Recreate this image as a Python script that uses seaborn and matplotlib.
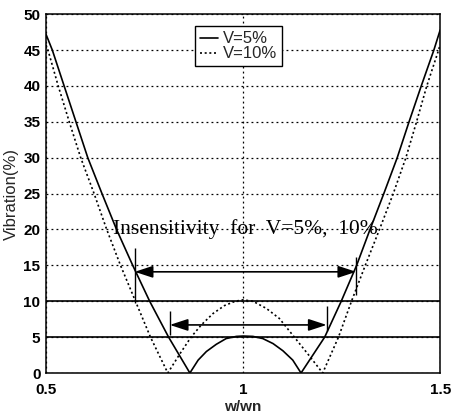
import matplotlib
matplotlib.use("Agg")
import matplotlib.pyplot as plt
import numpy as np
import pandas as pd
import seaborn as sns

# Residual vibration vs. normalized frequency for two vibration tolerances
w_v5 = [0.500, 0.516, 0.546, 0.576, 0.606, 0.642, 0.679, 0.720, 0.763, 0.811,
        0.865, 0.886, 0.907, 0.932, 0.957, 0.983, 1.000, 1.025, 1.050, 1.076,
        1.101, 1.126, 1.147, 1.207, 1.249, 1.288, 1.322, 1.357, 1.391, 1.421,
        1.452, 1.484, 1.500]
vib_v5 = [47.2, 45.0, 40.0, 35.0, 30.0, 25.0, 20.0, 15.0, 10.0, 5.0,
          0.0, 1.8, 3.0, 4.0, 4.8, 5.1, 5.15, 5.1, 4.8, 4.1,
          3.1, 1.8, 0.0, 5.0, 10.0, 15.0, 20.0, 25.0, 30.0, 35.0,
          40.0, 45.0, 47.8]

w_v10 = [0.500, 0.505, 0.531, 0.559, 0.588, 0.622, 0.654, 0.689, 0.727, 0.765,
         0.809, 0.840, 0.868, 0.894, 0.924, 0.953, 0.980, 1.000, 1.025, 1.059,
         1.092, 1.130, 1.165, 1.202, 1.242, 1.275, 1.310, 1.346, 1.381, 1.413,
         1.440, 1.466, 1.496, 1.500]
vib_v10 = [45.7, 45.0, 40.0, 35.0, 30.0, 25.0, 20.0, 15.0, 10.0, 5.0,
           0.0, 2.7, 5.0, 6.7, 8.3, 9.4, 10.0, 10.2, 10.0, 9.0,
           7.6, 5.0, 2.6, 0.0, 5.0, 10.0, 15.0, 20.0, 25.0, 30.0,
           35.0, 40.0, 45.0, 45.8]

series_names = ["V=5%", "V=10%"]
x_ticks = [0.5, 1.0, 1.5]
x_tick_labels = ["0.5", "1", "1.5"]
y_ticks = [0, 5, 10, 15, 20, 25, 30, 35, 40, 45, 50]

# Tolerance levels and insensitivity ranges (w/wn limits, arrow height)
levels = [5, 10]
range_v5 = [0.725, 1.287, 14.1]
range_v10 = [0.814, 1.212, 6.7]

df = pd.concat([
    pd.DataFrame({"w": w_v5, "vib": vib_v5, "case": series_names[0]}),
    pd.DataFrame({"w": w_v10, "vib": vib_v10, "case": series_names[1]}),
], ignore_index=True)

sns.set_style("white")
plt.rcParams["font.family"] = ["Liberation Sans", "DejaVu Sans"]

fig = plt.figure(figsize=(4.51, 4.17), dpi=100)
ax = fig.add_axes([0.102, 0.1055, 0.874, 0.8605])

sns.lineplot(data=df, x="w", y="vib", style="case", style_order=series_names,
             dashes={series_names[0]: "", series_names[1]: (1.2, 1.6)},
             color="black", linewidth=1.2, sort=False, estimator=None,
             ax=ax, legend=True)

ax.set_xlim(0.5, 1.5)
ax.set_ylim(0, 50)
ax.set_xticks(x_ticks)
ax.set_xticklabels(x_tick_labels)
ax.set_yticks(y_ticks)
ax.grid(True, linestyle=(0, (1.5, 2.5)), color="black", linewidth=0.9)
ax.tick_params(direction="in", length=4, width=0.8, labelsize=11,
               colors="black")
ax.tick_params(axis="x", pad=7)
ax.tick_params(axis="y", pad=4)
for lab in ax.get_xticklabels() + ax.get_yticklabels():
    lab.set_fontweight("bold")
for s in ax.spines.values():
    s.set_color("black")
    s.set_linewidth(1.1)
ax.set_xlabel("w/wn", fontsize=11, fontweight="bold", labelpad=2)
ax.set_ylabel("Vibration(%)", fontsize=12, labelpad=3)

for lv in levels:
    ax.axhline(lv, color="black", linewidth=1.2)

arrow_kw = dict(arrowstyle="<|-|>,head_length=1.1,head_width=0.36",
                color="black", lw=1.2, shrinkA=0, shrinkB=0, mutation_scale=10)
ax.annotate("", xy=(range_v5[0], range_v5[2]), xytext=(range_v5[1], range_v5[2]),
            arrowprops=arrow_kw)
ax.annotate("", xy=(range_v10[0], range_v10[2]), xytext=(range_v10[1], range_v10[2]),
            arrowprops=arrow_kw)
ax.vlines([range_v5[0]], 9.75, 17.4, color="black", linewidth=1.0)
ax.vlines([range_v5[1]], 10.9, 16.2, color="black", linewidth=1.0)
ax.vlines([range_v10[0]], 5.3, 8.6, color="black", linewidth=1.0)
ax.vlines([range_v10[1]], 5.9, 9.3, color="black", linewidth=1.0)

ax.text(0.67, 20.0, "Insensitivity  for  V=5%,  10%", family="Liberation Serif",
        fontsize=15.5, ha="left", va="center", color="black")

leg = ax.legend(loc="upper left", bbox_to_anchor=(0.377, 0.966), frameon=True,
                fancybox=False, edgecolor="black", framealpha=1,
                prop={"size": 12}, handlelength=1.1, handletextpad=0.3,
                labelspacing=0.0, borderpad=0.3, borderaxespad=0)
leg.get_frame().set_linewidth(1.0)

fig.savefig("out.png", dpi=100)
